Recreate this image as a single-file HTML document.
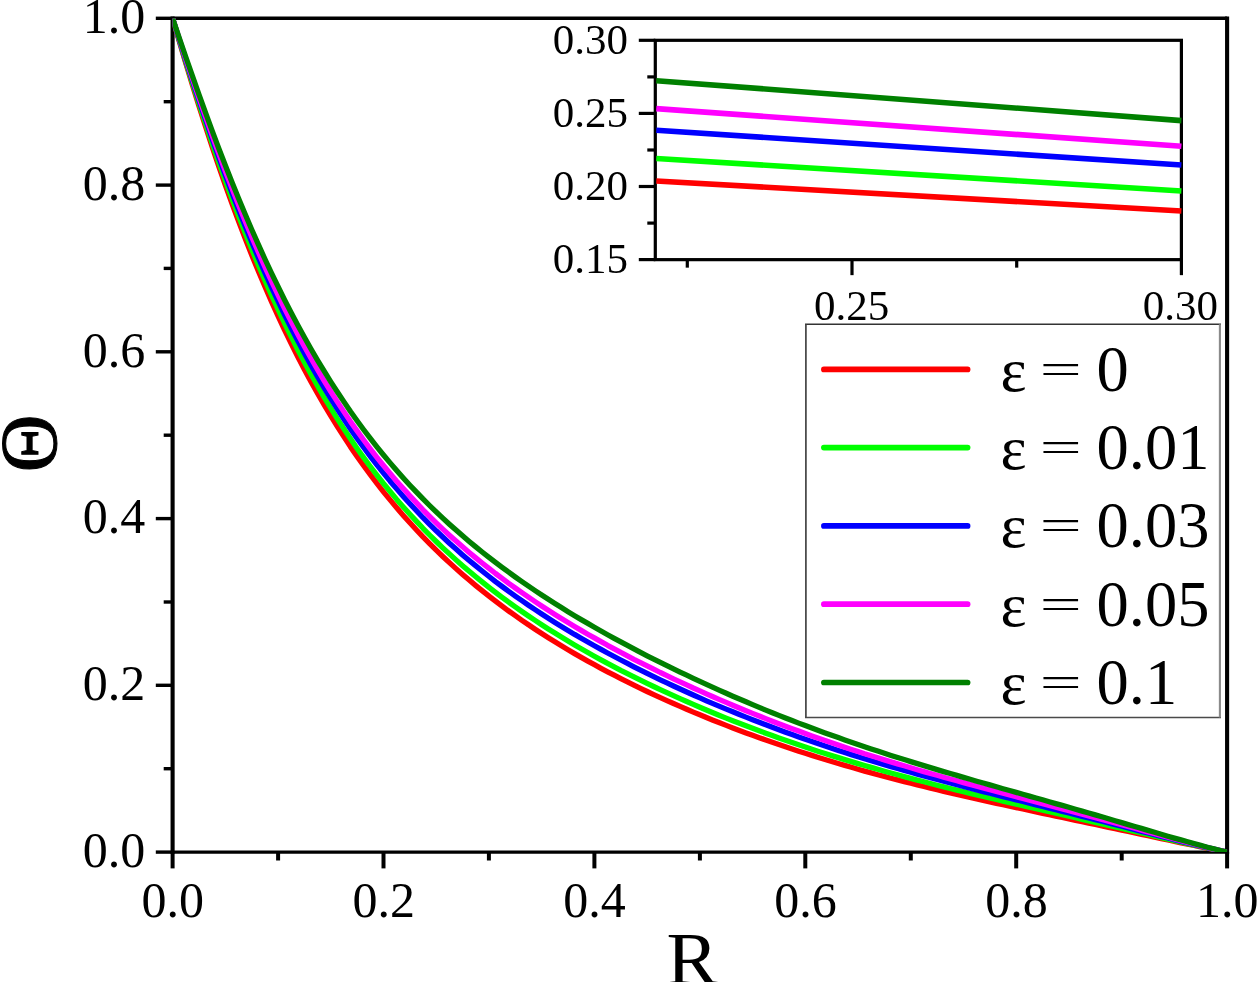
<!DOCTYPE html>
<html><head><meta charset="utf-8"><title>Plot</title>
<style>
html,body{margin:0;padding:0;background:#fff;overflow:hidden}
svg{display:block}
text{font-family:"Liberation Serif","Times New Roman",serif;fill:#000}
</style></head><body>
<svg width="1258" height="982" viewBox="0 0 1258 982">
<rect width="1258" height="982" fill="#fff"/>
<g stroke="#000" fill="none">
<line x1="172.6" y1="16.5" x2="172.6" y2="853.7" stroke-width="4.1"/>
<line x1="1227.1" y1="16.5" x2="1227.1" y2="853.7" stroke-width="4.1"/>
<line x1="172.6" y1="18.3" x2="1227.1" y2="18.3" stroke-width="3.6"/>
<line x1="172.6" y1="852.1" x2="1227.1" y2="852.1" stroke-width="3.2"/>
<g stroke-width="4.0"><line x1="172.6" y1="852.1" x2="172.6" y2="868.4"/><line x1="278.1" y1="852.1" x2="278.1" y2="860.5"/><line x1="383.5" y1="852.1" x2="383.5" y2="868.4"/><line x1="488.9" y1="852.1" x2="488.9" y2="860.5"/><line x1="594.4" y1="852.1" x2="594.4" y2="868.4"/><line x1="699.9" y1="852.1" x2="699.9" y2="860.5"/><line x1="805.3" y1="852.1" x2="805.3" y2="868.4"/><line x1="910.8" y1="852.1" x2="910.8" y2="860.5"/><line x1="1016.2" y1="852.1" x2="1016.2" y2="868.4"/><line x1="1121.7" y1="852.1" x2="1121.7" y2="860.5"/><line x1="1227.1" y1="852.1" x2="1227.1" y2="868.4"/></g>
<g stroke-width="3.4"><line x1="172.6" y1="852.1" x2="155.79999999999998" y2="852.1"/><line x1="172.6" y1="768.7" x2="163.7" y2="768.7"/><line x1="172.6" y1="685.3" x2="155.79999999999998" y2="685.3"/><line x1="172.6" y1="602.0" x2="163.7" y2="602.0"/><line x1="172.6" y1="518.6" x2="155.79999999999998" y2="518.6"/><line x1="172.6" y1="435.2" x2="163.7" y2="435.2"/><line x1="172.6" y1="351.8" x2="155.79999999999998" y2="351.8"/><line x1="172.6" y1="268.4" x2="163.7" y2="268.4"/><line x1="172.6" y1="185.1" x2="155.79999999999998" y2="185.1"/><line x1="172.6" y1="101.7" x2="163.7" y2="101.7"/><line x1="172.6" y1="18.3" x2="155.79999999999998" y2="18.3"/></g>
</g>
<g stroke="#000" stroke-width="3.2" fill="none">
<rect x="655.3" y="40.3" width="526.1" height="219.35"/>
<line x1="655.3" y1="40.3" x2="638.8" y2="40.3"/><line x1="655.3" y1="76.9" x2="647.3" y2="76.9"/><line x1="655.3" y1="113.4" x2="638.8" y2="113.4"/><line x1="655.3" y1="150.0" x2="647.3" y2="150.0"/><line x1="655.3" y1="186.5" x2="638.8" y2="186.5"/><line x1="655.3" y1="223.1" x2="647.3" y2="223.1"/><line x1="655.3" y1="259.6" x2="638.8" y2="259.6"/><line x1="687.3" y1="259.65" x2="687.3" y2="267.65"/><line x1="852.0" y1="259.65" x2="852.0" y2="275.15"/><line x1="1016.7" y1="259.65" x2="1016.7" y2="267.65"/><line x1="1181.4" y1="259.65" x2="1181.4" y2="275.15"/></g>
<clipPath id="pc"><rect x="172.6" y="18.3" width="1054.5" height="833.8000000000001"/></clipPath>
<g fill="none" stroke-width="5.3" stroke-linejoin="round" clip-path="url(#pc)">
<path d="M172.6,18.3 L179.2,41.1 L185.8,63.3 L192.4,85.1 L199.0,106.2 L205.6,126.8 L212.1,146.8 L218.7,166.2 L225.3,185.1 L231.9,203.4 L238.5,221.1 L245.1,238.3 L251.7,254.9 L258.3,271.0 L264.9,286.5 L271.5,301.6 L278.1,316.1 L284.6,330.2 L291.2,343.7 L297.8,356.8 L304.4,369.5 L311.0,381.7 L317.6,393.5 L324.2,405.0 L330.8,416.0 L337.4,426.6 L344.0,436.9 L350.5,446.9 L357.1,456.5 L363.7,465.8 L370.3,474.7 L376.9,483.4 L383.5,491.8 L390.1,499.9 L396.7,507.8 L403.3,515.4 L409.9,522.8 L416.5,530.0 L423.0,536.9 L429.6,543.6 L436.2,550.2 L442.8,556.5 L449.4,562.6 L456.0,568.6 L462.6,574.4 L469.2,580.1 L475.8,585.6 L482.4,590.9 L489.0,596.1 L495.5,601.2 L502.1,606.2 L508.7,611.0 L515.3,615.7 L521.9,620.3 L528.5,624.8 L535.1,629.2 L541.7,633.5 L548.3,637.7 L554.9,641.8 L561.4,645.8 L568.0,649.7 L574.6,653.6 L581.2,657.4 L587.8,661.1 L594.4,664.7 L601.0,668.3 L607.6,671.8 L614.2,675.2 L620.8,678.6 L627.4,681.9 L633.9,685.1 L640.5,688.3 L647.1,691.5 L653.7,694.6 L660.3,697.6 L666.9,700.6 L673.5,703.5 L680.1,706.4 L686.7,709.3 L693.3,712.1 L699.9,714.8 L706.4,717.5 L713.0,720.2 L719.6,722.8 L726.2,725.4 L732.8,727.9 L739.4,730.4 L746.0,732.9 L752.6,735.3 L759.2,737.7 L765.8,740.0 L772.3,742.3 L778.9,744.6 L785.5,746.8 L792.1,749.0 L798.7,751.2 L805.3,753.3 L811.9,755.4 L818.5,757.5 L825.1,759.5 L831.7,761.5 L838.3,763.5 L844.8,765.4 L851.4,767.3 L858.0,769.2 L864.6,771.1 L871.2,772.9 L877.8,774.7 L884.4,776.4 L891.0,778.2 L897.6,779.9 L904.2,781.6 L910.8,783.3 L917.3,784.9 L923.9,786.5 L930.5,788.2 L937.1,789.7 L943.7,791.3 L950.3,792.9 L956.9,794.4 L963.5,795.9 L970.1,797.4 L976.7,798.9 L983.2,800.4 L989.8,801.8 L996.4,803.3 L1003.0,804.7 L1009.6,806.2 L1016.2,807.6 L1022.8,809.0 L1029.4,810.4 L1036.0,811.9 L1042.6,813.3 L1049.2,814.7 L1055.7,816.1 L1062.3,817.5 L1068.9,818.9 L1075.5,820.3 L1082.1,821.7 L1088.7,823.1 L1095.3,824.5 L1101.9,825.9 L1108.5,827.3 L1115.1,828.7 L1121.7,830.1 L1128.2,831.5 L1134.8,832.9 L1141.4,834.3 L1148.0,835.7 L1154.6,837.2 L1161.2,838.6 L1167.8,840.0 L1174.4,841.4 L1181.0,842.8 L1187.6,844.1 L1194.1,845.5 L1200.7,846.9 L1207.3,848.2 L1213.9,849.5 L1220.5,850.8 L1227.1,852.1" stroke="#ff0000"/>
<path d="M172.6,18.3 L179.2,40.3 L185.8,61.9 L192.4,83.0 L199.0,103.6 L205.6,123.6 L212.1,143.2 L218.7,162.1 L225.3,180.6 L231.9,198.5 L238.5,215.9 L245.1,232.8 L251.7,249.1 L258.3,265.0 L264.9,280.3 L271.5,295.1 L278.1,309.4 L284.6,323.3 L291.2,336.7 L297.8,349.7 L304.4,362.2 L311.0,374.3 L317.6,386.0 L324.2,397.3 L330.8,408.2 L337.4,418.8 L344.0,429.0 L350.5,438.8 L357.1,448.4 L363.7,457.6 L370.3,466.5 L376.9,475.1 L383.5,483.5 L390.1,491.5 L396.7,499.4 L403.3,506.9 L409.9,514.3 L416.5,521.4 L423.0,528.3 L429.6,535.0 L436.2,541.5 L442.8,547.8 L449.4,553.9 L456.0,559.9 L462.6,565.7 L469.2,571.3 L475.8,576.8 L482.4,582.1 L489.0,587.3 L495.5,592.4 L502.1,597.4 L508.7,602.2 L515.3,606.9 L521.9,611.5 L528.5,616.0 L535.1,620.4 L541.7,624.7 L548.3,629.0 L554.9,633.1 L561.4,637.1 L568.0,641.1 L574.6,645.0 L581.2,648.8 L587.8,652.5 L594.4,656.2 L601.0,659.8 L607.6,663.4 L614.2,666.8 L620.8,670.3 L627.4,673.6 L633.9,676.9 L640.5,680.2 L647.1,683.4 L653.7,686.5 L660.3,689.6 L666.9,692.7 L673.5,695.7 L680.1,698.6 L686.7,701.5 L693.3,704.4 L699.9,707.2 L706.4,710.0 L713.0,712.8 L719.6,715.5 L726.2,718.1 L732.8,720.7 L739.4,723.3 L746.0,725.8 L752.6,728.3 L759.2,730.8 L765.8,733.2 L772.3,735.6 L778.9,738.0 L785.5,740.3 L792.1,742.6 L798.7,744.8 L805.3,747.0 L811.9,749.2 L818.5,751.4 L825.1,753.5 L831.7,755.6 L838.3,757.6 L844.8,759.6 L851.4,761.6 L858.0,763.6 L864.6,765.5 L871.2,767.4 L877.8,769.3 L884.4,771.2 L891.0,773.0 L897.6,774.8 L904.2,776.6 L910.8,778.4 L917.3,780.1 L923.9,781.8 L930.5,783.5 L937.1,785.2 L943.7,786.8 L950.3,788.5 L956.9,790.1 L963.5,791.7 L970.1,793.3 L976.7,794.9 L983.2,796.4 L989.8,798.0 L996.4,799.5 L1003.0,801.1 L1009.6,802.6 L1016.2,804.1 L1022.8,805.7 L1029.4,807.2 L1036.0,808.7 L1042.6,810.2 L1049.2,811.7 L1055.7,813.2 L1062.3,814.7 L1068.9,816.2 L1075.5,817.7 L1082.1,819.3 L1088.7,820.8 L1095.3,822.3 L1101.9,823.8 L1108.5,825.3 L1115.1,826.9 L1121.7,828.4 L1128.2,829.9 L1134.8,831.5 L1141.4,833.0 L1148.0,834.5 L1154.6,836.1 L1161.2,837.6 L1167.8,839.1 L1174.4,840.6 L1181.0,842.1 L1187.6,843.6 L1194.1,845.1 L1200.7,846.5 L1207.3,848.0 L1213.9,849.4 L1220.5,850.8 L1227.1,852.1" stroke="#00ff00"/>
<path d="M172.6,18.3 L179.2,39.4 L185.8,60.1 L192.4,80.4 L199.0,100.3 L205.6,119.7 L212.1,138.6 L218.7,157.1 L225.3,175.1 L231.9,192.6 L238.5,209.5 L245.1,226.0 L251.7,242.0 L258.3,257.5 L264.9,272.6 L271.5,287.1 L278.1,301.2 L284.6,314.9 L291.2,328.1 L297.8,340.8 L304.4,353.2 L311.0,365.1 L317.6,376.7 L324.2,387.8 L330.8,398.6 L337.4,409.1 L344.0,419.2 L350.5,428.9 L357.1,438.4 L363.7,447.5 L370.3,456.3 L376.9,464.9 L383.5,473.1 L390.1,481.2 L396.7,488.9 L403.3,496.4 L409.9,503.7 L416.5,510.8 L423.0,517.7 L429.6,524.3 L436.2,530.8 L442.8,537.0 L449.4,543.2 L456.0,549.1 L462.6,554.9 L469.2,560.5 L475.8,565.9 L482.4,571.3 L489.0,576.5 L495.5,581.6 L502.1,586.5 L508.7,591.3 L515.3,596.1 L521.9,600.7 L528.5,605.2 L535.1,609.6 L541.7,614.0 L548.3,618.2 L554.9,622.4 L561.4,626.4 L568.0,630.4 L574.6,634.4 L581.2,638.2 L587.8,642.0 L594.4,645.7 L601.0,649.4 L607.6,653.0 L614.2,656.5 L620.8,660.0 L627.4,663.4 L633.9,666.8 L640.5,670.1 L647.1,673.4 L653.7,676.6 L660.3,679.8 L666.9,682.9 L673.5,686.0 L680.1,689.0 L686.7,692.0 L693.3,695.0 L699.9,697.9 L706.4,700.8 L713.0,703.6 L719.6,706.4 L726.2,709.1 L732.8,711.8 L739.4,714.5 L746.0,717.1 L752.6,719.7 L759.2,722.3 L765.8,724.8 L772.3,727.3 L778.9,729.8 L785.5,732.2 L792.1,734.6 L798.7,736.9 L805.3,739.3 L811.9,741.5 L818.5,743.8 L825.1,746.0 L831.7,748.2 L838.3,750.4 L844.8,752.5 L851.4,754.6 L858.0,756.7 L864.6,758.7 L871.2,760.7 L877.8,762.7 L884.4,764.7 L891.0,766.6 L897.6,768.5 L904.2,770.4 L910.8,772.3 L917.3,774.1 L923.9,775.9 L930.5,777.7 L937.1,779.5 L943.7,781.3 L950.3,783.0 L956.9,784.8 L963.5,786.5 L970.1,788.2 L976.7,789.9 L983.2,791.6 L989.8,793.3 L996.4,794.9 L1003.0,796.6 L1009.6,798.2 L1016.2,799.9 L1022.8,801.5 L1029.4,803.2 L1036.0,804.8 L1042.6,806.4 L1049.2,808.1 L1055.7,809.7 L1062.3,811.4 L1068.9,813.0 L1075.5,814.7 L1082.1,816.3 L1088.7,818.0 L1095.3,819.6 L1101.9,821.3 L1108.5,823.0 L1115.1,824.6 L1121.7,826.3 L1128.2,828.0 L1134.8,829.7 L1141.4,831.3 L1148.0,833.0 L1154.6,834.7 L1161.2,836.4 L1167.8,838.0 L1174.4,839.7 L1181.0,841.3 L1187.6,843.0 L1194.1,844.6 L1200.7,846.1 L1207.3,847.7 L1213.9,849.2 L1220.5,850.7 L1227.1,852.1" stroke="#0000ff"/>
<path d="M172.6,18.3 L179.2,38.7 L185.8,58.8 L192.4,78.5 L199.0,97.9 L205.6,116.8 L212.1,135.3 L218.7,153.4 L225.3,171.0 L231.9,188.1 L238.5,204.8 L245.1,221.0 L251.7,236.7 L258.3,252.0 L264.9,266.8 L271.5,281.2 L278.1,295.1 L284.6,308.6 L291.2,321.6 L297.8,334.3 L304.4,346.5 L311.0,358.3 L317.6,369.7 L324.2,380.8 L330.8,391.5 L337.4,401.9 L344.0,411.9 L350.5,421.6 L357.1,430.9 L363.7,440.0 L370.3,448.8 L376.9,457.3 L383.5,465.5 L390.1,473.4 L396.7,481.2 L403.3,488.6 L409.9,495.9 L416.5,502.9 L423.0,509.8 L429.6,516.4 L436.2,522.8 L442.8,529.1 L449.4,535.2 L456.0,541.1 L462.6,546.8 L469.2,552.4 L475.8,557.9 L482.4,563.2 L489.0,568.4 L495.5,573.5 L502.1,578.4 L508.7,583.3 L515.3,588.0 L521.9,592.6 L528.5,597.2 L535.1,601.6 L541.7,606.0 L548.3,610.2 L554.9,614.4 L561.4,618.5 L568.0,622.5 L574.6,626.5 L581.2,630.4 L587.8,634.2 L594.4,637.9 L601.0,641.6 L607.6,645.3 L614.2,648.8 L620.8,652.4 L627.4,655.8 L633.9,659.3 L640.5,662.6 L647.1,665.9 L653.7,669.2 L660.3,672.5 L666.9,675.6 L673.5,678.8 L680.1,681.9 L686.7,684.9 L693.3,688.0 L699.9,690.9 L706.4,693.9 L713.0,696.8 L719.6,699.6 L726.2,702.4 L732.8,705.2 L739.4,708.0 L746.0,710.7 L752.6,713.4 L759.2,716.0 L765.8,718.6 L772.3,721.2 L778.9,723.7 L785.5,726.2 L792.1,728.7 L798.7,731.1 L805.3,733.5 L811.9,735.9 L818.5,738.2 L825.1,740.5 L831.7,742.8 L838.3,745.0 L844.8,747.2 L851.4,749.4 L858.0,751.5 L864.6,753.7 L871.2,755.7 L877.8,757.8 L884.4,759.9 L891.0,761.9 L897.6,763.9 L904.2,765.8 L910.8,767.8 L917.3,769.7 L923.9,771.6 L930.5,773.5 L937.1,775.3 L943.7,777.2 L950.3,779.0 L956.9,780.8 L963.5,782.6 L970.1,784.4 L976.7,786.2 L983.2,788.0 L989.8,789.7 L996.4,791.5 L1003.0,793.2 L1009.6,795.0 L1016.2,796.7 L1022.8,798.4 L1029.4,800.2 L1036.0,801.9 L1042.6,803.6 L1049.2,805.4 L1055.7,807.1 L1062.3,808.9 L1068.9,810.6 L1075.5,812.4 L1082.1,814.1 L1088.7,815.9 L1095.3,817.6 L1101.9,819.4 L1108.5,821.2 L1115.1,823.0 L1121.7,824.7 L1128.2,826.5 L1134.8,828.3 L1141.4,830.1 L1148.0,831.9 L1154.6,833.7 L1161.2,835.5 L1167.8,837.2 L1174.4,839.0 L1181.0,840.7 L1187.6,842.5 L1194.1,844.2 L1200.7,845.8 L1207.3,847.5 L1213.9,849.1 L1220.5,850.6 L1227.1,852.1" stroke="#ff00ff"/>
<path d="M172.6,18.3 L179.2,37.8 L185.8,57.0 L192.4,75.9 L199.0,94.6 L205.6,112.8 L212.1,130.7 L218.7,148.2 L225.3,165.3 L231.9,182.0 L238.5,198.3 L245.1,214.1 L251.7,229.5 L258.3,244.4 L264.9,259.0 L271.5,273.1 L278.1,286.7 L284.6,300.0 L291.2,312.8 L297.8,325.3 L304.4,337.3 L311.0,349.0 L317.6,360.3 L324.2,371.2 L330.8,381.8 L337.4,392.0 L344.0,401.9 L350.5,411.5 L357.1,420.7 L363.7,429.7 L370.3,438.4 L376.9,446.8 L383.5,455.0 L390.1,462.9 L396.7,470.5 L403.3,478.0 L409.9,485.2 L416.5,492.1 L423.0,498.9 L429.6,505.5 L436.2,511.9 L442.8,518.1 L449.4,524.2 L456.0,530.1 L462.6,535.8 L469.2,541.4 L475.8,546.9 L482.4,552.2 L489.0,557.4 L495.5,562.4 L502.1,567.4 L508.7,572.2 L515.3,577.0 L521.9,581.6 L528.5,586.2 L535.1,590.6 L541.7,595.0 L548.3,599.3 L554.9,603.5 L561.4,607.6 L568.0,611.7 L574.6,615.7 L581.2,619.6 L587.8,623.4 L594.4,627.2 L601.0,631.0 L607.6,634.7 L614.2,638.3 L620.8,641.9 L627.4,645.4 L633.9,648.9 L640.5,652.4 L647.1,655.8 L653.7,659.1 L660.3,662.4 L666.9,665.7 L673.5,668.9 L680.1,672.1 L686.7,675.2 L693.3,678.3 L699.9,681.4 L706.4,684.4 L713.0,687.4 L719.6,690.4 L726.2,693.3 L732.8,696.2 L739.4,699.0 L746.0,701.8 L752.6,704.6 L759.2,707.4 L765.8,710.1 L772.3,712.7 L778.9,715.4 L785.5,718.0 L792.1,720.5 L798.7,723.1 L805.3,725.6 L811.9,728.1 L818.5,730.5 L825.1,732.9 L831.7,735.3 L838.3,737.6 L844.8,739.9 L851.4,742.2 L858.0,744.5 L864.6,746.7 L871.2,748.9 L877.8,751.1 L884.4,753.2 L891.0,755.4 L897.6,757.5 L904.2,759.5 L910.8,761.6 L917.3,763.6 L923.9,765.6 L930.5,767.6 L937.1,769.6 L943.7,771.6 L950.3,773.5 L956.9,775.4 L963.5,777.4 L970.1,779.3 L976.7,781.2 L983.2,783.0 L989.8,784.9 L996.4,786.8 L1003.0,788.7 L1009.6,790.5 L1016.2,792.4 L1022.8,794.2 L1029.4,796.1 L1036.0,798.0 L1042.6,799.8 L1049.2,801.7 L1055.7,803.6 L1062.3,805.4 L1068.9,807.3 L1075.5,809.2 L1082.1,811.1 L1088.7,813.0 L1095.3,814.9 L1101.9,816.8 L1108.5,818.8 L1115.1,820.7 L1121.7,822.6 L1128.2,824.6 L1134.8,826.5 L1141.4,828.4 L1148.0,830.4 L1154.6,832.3 L1161.2,834.2 L1167.8,836.2 L1174.4,838.1 L1181.0,839.9 L1187.6,841.8 L1194.1,843.6 L1200.7,845.4 L1207.3,847.2 L1213.9,848.9 L1220.5,850.5 L1227.1,852.1" stroke="#008000"/>
</g>
<g fill="none" stroke-width="5.6">
<path d="M656.3,181.0 L1181.4,211.0" stroke="#ff0000"/>
<path d="M656.3,158.5 L1181.4,191.0" stroke="#00ff00"/>
<path d="M656.3,130.3 L1181.4,165.0" stroke="#0000ff"/>
<path d="M656.3,108.6 L1181.4,146.3" stroke="#ff00ff"/>
<path d="M656.3,80.7 L1181.4,120.6" stroke="#008000"/>
</g>
<text x="172.8" y="917" text-anchor="middle" font-size="50">0.0</text><text x="145.2" y="866.8" text-anchor="end" font-size="50">0.0</text>
<text x="383.7" y="917" text-anchor="middle" font-size="50">0.2</text><text x="145.2" y="700.0" text-anchor="end" font-size="50">0.2</text>
<text x="594.6" y="917" text-anchor="middle" font-size="50">0.4</text><text x="145.2" y="533.3" text-anchor="end" font-size="50">0.4</text>
<text x="805.5" y="917" text-anchor="middle" font-size="50">0.6</text><text x="145.2" y="366.5" text-anchor="end" font-size="50">0.6</text>
<text x="1016.4" y="917" text-anchor="middle" font-size="50">0.8</text><text x="145.2" y="199.8" text-anchor="end" font-size="50">0.8</text>
<text x="1227.3" y="917" text-anchor="middle" font-size="50">1.0</text><text x="145.2" y="33.0" text-anchor="end" font-size="50">1.0</text>
<text x="628" y="53.9" text-anchor="end" font-size="43">0.30</text>
<text x="628" y="127.0" text-anchor="end" font-size="43">0.25</text>
<text x="628" y="200.1" text-anchor="end" font-size="43">0.20</text>
<text x="628" y="273.2" text-anchor="end" font-size="43">0.15</text>
<text x="851.5" y="320" text-anchor="middle" font-size="43">0.25</text><text x="1180.4" y="320" text-anchor="middle" font-size="43">0.30</text>

<rect x="805.9" y="324.3" width="414" height="393.2" fill="#fff"/><g fill="none"><line x1="805" y1="324.3" x2="1221" y2="324.3" stroke="#333" stroke-width="1.4"/><line x1="805" y1="717.5" x2="1221" y2="717.5" stroke="#4a4a4a" stroke-width="1.7"/><line x1="805.9" y1="324.3" x2="805.9" y2="717.5" stroke="#444" stroke-width="1.7"/><line x1="1219.9" y1="324.3" x2="1219.9" y2="717.5" stroke="#8a8a8a" stroke-width="2.1"/></g>
<line x1="823.9" y1="369.4" x2="967.6" y2="369.4" stroke="#ff0000" stroke-width="5.7" stroke-linecap="round"/><text x="1000.5" y="390.7" font-size="62">ε</text><text transform="translate(1060.8,369.5) scale(1.2,0.68)" x="0" y="19.5" text-anchor="middle" font-size="62">=</text><text x="1096.6" y="390.7" font-size="64.5">0</text>
<line x1="823.9" y1="447.6" x2="967.6" y2="447.6" stroke="#00ff00" stroke-width="5.7" stroke-linecap="round"/><text x="1000.5" y="468.9" font-size="62">ε</text><text transform="translate(1060.8,447.7) scale(1.2,0.68)" x="0" y="19.5" text-anchor="middle" font-size="62">=</text><text x="1096.6" y="468.9" font-size="64.5">0.01</text>
<line x1="823.9" y1="525.9" x2="967.6" y2="525.9" stroke="#0000ff" stroke-width="5.7" stroke-linecap="round"/><text x="1000.5" y="547.2" font-size="62">ε</text><text transform="translate(1060.8,526.0) scale(1.2,0.68)" x="0" y="19.5" text-anchor="middle" font-size="62">=</text><text x="1096.6" y="547.2" font-size="64.5">0.03</text>
<line x1="823.9" y1="604.2" x2="967.6" y2="604.2" stroke="#ff00ff" stroke-width="5.7" stroke-linecap="round"/><text x="1000.5" y="625.5" font-size="62">ε</text><text transform="translate(1060.8,604.3) scale(1.2,0.68)" x="0" y="19.5" text-anchor="middle" font-size="62">=</text><text x="1096.6" y="625.5" font-size="64.5">0.05</text>
<line x1="823.9" y1="682.5" x2="967.6" y2="682.5" stroke="#008000" stroke-width="5.7" stroke-linecap="round"/><text x="1000.5" y="703.8" font-size="62">ε</text><text transform="translate(1060.8,682.6) scale(1.2,0.68)" x="0" y="19.5" text-anchor="middle" font-size="62">=</text><text x="1096.6" y="703.8" font-size="64.5">0.1</text>

<text transform="translate(692.5,983.5) scale(1.05,1)" text-anchor="middle" font-size="74">R</text>
<text transform="translate(55.8,443.3) rotate(-90)" text-anchor="middle" font-size="80" stroke="#000" stroke-width="1">Θ</text>
</svg>
</body></html>
